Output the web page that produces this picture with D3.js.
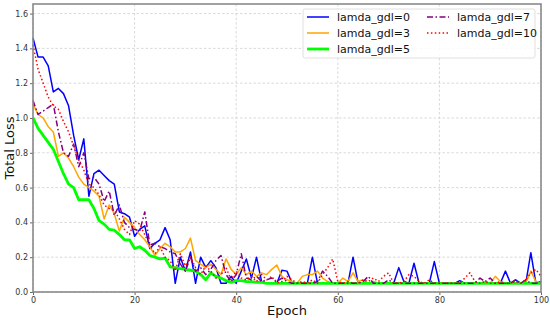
<!DOCTYPE html>
<html><head><meta charset="utf-8">
<script src="https://cdn.jsdelivr.net/npm/d3@7"></script>
<style>body{margin:0;background:#fff}svg{display:block}</style>
</head><body>
<svg id="c" width="550" height="320"></svg>
<script>
const epochs = d3.range(0, 101);
const xTicks = [0, 20, 40, 60, 80, 100];
const yTicks = [0.0, 0.2, 0.4, 0.6, 0.8, 1.0, 1.2, 1.4, 1.6];
const seriesNames = ["lamda_gdl=0", "lamda_gdl=3", "lamda_gdl=5", "lamda_gdl=7", "lamda_gdl=10"];

const gdl0 = [1.46,1.35,1.35,1.30,1.15,1.17,1.14,1.07,0.90,0.76,0.88,0.55,0.68,0.70,0.67,0.64,0.62,0.46,0.45,0.43,
0.32,0.36,0.38,0.25,0.28,0.30,0.37,0.30,0.05,0.20,0.12,0.23,0.05,0.20,0.14,0.18,0.14,0.05,0.05,0.09,
0.05,0.12,0.19,0.08,0.20,0.06,0.05,0.05,0.05,0.125,0.12,0.05,0.05,0.05,0.05,0.20,0.05,0.05,0.05,0.05,
0.05,0.05,0.05,0.20,0.05,0.05,0.05,0.05,0.05,0.05,0.05,0.05,0.14,0.06,0.05,0.165,0.05,0.05,0.05,0.175,
0.05,0.05,0.05,0.05,0.065,0.05,0.05,0.05,0.05,0.05,0.05,0.05,0.05,0.12,0.05,0.07,0.05,0.05,0.226,0.05,0.06];
const gdl3 = [1.08,1.02,1.00,0.95,0.92,0.78,0.80,0.77,0.72,0.66,0.62,0.60,0.58,0.55,0.42,0.50,0.45,0.35,0.43,0.40,
0.37,0.33,0.30,0.26,0.21,0.25,0.28,0.26,0.23,0.23,0.25,0.31,0.18,0.16,0.14,0.16,0.13,0.10,0.19,0.13,
0.10,0.14,0.10,0.12,0.09,0.11,0.10,0.13,0.155,0.09,0.07,0.06,0.05,0.09,0.10,0.10,0.12,0.08,0.06,0.05,
0.05,0.08,0.06,0.11,0.06,0.07,0.05,0.06,0.05,0.05,0.05,0.05,0.05,0.05,0.05,0.05,0.05,0.05,0.05,0.05,
0.05,0.05,0.05,0.05,0.05,0.05,0.05,0.05,0.05,0.06,0.05,0.09,0.06,0.05,0.05,0.05,0.05,0.05,0.12,0.06,0.05];
const gdl5 = [1.00,0.94,0.90,0.86,0.82,0.75,0.68,0.62,0.60,0.53,0.53,0.53,0.48,0.41,0.39,0.36,0.355,0.33,0.30,0.30,
0.25,0.26,0.24,0.21,0.20,0.19,0.195,0.145,0.14,0.135,0.13,0.125,0.12,0.10,0.07,0.11,0.09,0.08,0.065,0.055,
0.065,0.065,0.06,0.06,0.055,0.055,0.05,0.05,0.05,0.05,0.05,0.05,0.05,0.05,0.05,0.05,0.05,0.05,0.05,0.05,
0.05,0.05,0.05,0.05,0.05,0.05,0.05,0.05,0.05,0.05,0.05,0.05,0.05,0.05,0.05,0.05,0.05,0.05,0.05,0.05,
0.05,0.05,0.05,0.05,0.05,0.05,0.05,0.05,0.05,0.05,0.05,0.05,0.05,0.05,0.05,0.05,0.05,0.05,0.05,0.05,0.05];
const gdl7 = [1.10,1.02,1.04,1.06,1.08,0.92,0.80,0.78,0.85,0.72,0.80,0.65,0.66,0.62,0.52,0.58,0.44,0.50,0.40,0.37,
0.36,0.35,0.46,0.27,0.28,0.26,0.25,0.23,0.22,0.16,0.12,0.20,0.12,0.14,0.10,0.13,0.18,0.21,0.10,0.06,
0.10,0.22,0.08,0.07,0.09,0.06,0.07,0.08,0.06,0.08,0.06,0.05,0.05,0.05,0.05,0.05,0.06,0.12,0.09,0.05,
0.05,0.05,0.05,0.05,0.05,0.06,0.09,0.05,0.05,0.05,0.07,0.05,0.05,0.05,0.05,0.05,0.05,0.05,0.05,0.05,
0.05,0.05,0.05,0.05,0.05,0.05,0.05,0.05,0.08,0.06,0.08,0.05,0.05,0.05,0.05,0.07,0.05,0.07,0.05,0.05,0.06];
const gdl10 = [1.42,1.28,1.20,1.12,1.07,1.05,0.98,0.92,0.84,0.76,0.70,0.62,0.60,0.56,0.50,0.48,0.47,0.42,0.36,0.33,
0.41,0.39,0.33,0.27,0.22,0.26,0.20,0.18,0.12,0.22,0.15,0.20,0.14,0.10,0.15,0.12,0.08,0.10,0.14,0.07,
0.12,0.08,0.07,0.09,0.06,0.10,0.07,0.09,0.05,0.06,0.09,0.07,0.05,0.06,0.05,0.07,0.05,0.10,0.14,0.19,
0.06,0.05,0.06,0.05,0.05,0.07,0.06,0.08,0.06,0.09,0.11,0.05,0.05,0.06,0.10,0.09,0.06,0.05,0.07,0.05,
0.05,0.05,0.05,0.05,0.05,0.08,0.11,0.06,0.05,0.06,0.05,0.05,0.06,0.05,0.05,0.06,0.05,0.07,0.11,0.13,0.09];

const seriesValues = [gdl0, gdl3, gdl5, gdl7, gdl10];
const colors = ["#0000ff", "#ffa500", "#00ff00", "#800080", "#ff0000"];
const widths = [1.5, 1.5, 2.8, 1.5, 1.5];
const dashes = [null, null, null, "6,2.5,1.5,2.5", "1.5,2.4"];

const svg = d3.select("#c");
const L = 33, R = 541, T = 4, B = 292;
const x = d3.scaleLinear().domain([0, 100]).range([L, R]);
const y = d3.scaleLinear().domain([0, 1.655]).range([B, T]);

// grid
const grid = svg.append("g");
grid.selectAll(".gx").data(xTicks).join("line")
  .attr("x1", d => x(d)).attr("x2", d => x(d)).attr("y1", T).attr("y2", B)
  .attr("stroke", "#cfcfcf").attr("stroke-width", 0.8).attr("stroke-dasharray", "2.5,2");
grid.selectAll(".gy").data(yTicks).join("line")
  .attr("x1", L).attr("x2", R).attr("y1", d => y(d)).attr("y2", d => y(d))
  .attr("stroke", "#cfcfcf").attr("stroke-width", 0.8).attr("stroke-dasharray", "2.5,2");

// lines
const line = d3.line().x((d, i) => x(epochs[i])).y(d => y(d));
seriesValues.forEach((vals, k) => {
  svg.append("path").datum(vals)
    .attr("d", line).attr("fill", "none")
    .attr("stroke", colors[k]).attr("stroke-width", widths[k])
    .attr("stroke-linejoin", "round")
    .attr("stroke-dasharray", dashes[k]);
});

// axes
const xAxis = svg.append("g").attr("transform", `translate(0,${B})`)
  .call(d3.axisBottom(x).tickValues(xTicks).tickFormat(d3.format("d")).tickSize(3).tickPadding(2));
const yAxis = svg.append("g").attr("transform", `translate(${L},0)`)
  .call(d3.axisLeft(y).tickValues(yTicks).tickFormat(d3.format(".1f")).tickSize(3).tickPadding(2));
[xAxis, yAxis].forEach(a => {
  a.select(".domain").remove();
  a.selectAll("text").attr("font-family", "DejaVu Sans").attr("font-size", 8).attr("fill", "#333");
  a.selectAll(".tick line").attr("stroke", "#666");
});

// frame
svg.append("rect").attr("x", L).attr("y", T).attr("width", R - L).attr("height", B - T)
  .attr("fill", "none").attr("stroke", "#8a8a8a").attr("stroke-width", 1.6);

// axis titles
svg.append("text").attr("x", (L + R) / 2).attr("y", 315).attr("text-anchor", "middle")
  .attr("font-family", "DejaVu Sans").attr("font-size", 13).attr("fill", "#111").text("Epoch");
svg.append("text").attr("transform", `translate(14,${(T + B) / 2}) rotate(-90)`).attr("text-anchor", "middle")
  .attr("font-family", "DejaVu Sans").attr("font-size", 13).attr("fill", "#111").text("Total Loss");

// legend
const lg = svg.append("g");
lg.append("rect").attr("x", 303).attr("y", 9).attr("width", 232).attr("height", 49).attr("rx", 2)
  .attr("fill", "#fff").attr("fill-opacity", 0.85).attr("stroke", "#d8d8d8").attr("stroke-width", 0.8);
const pos = [[307, 17], [307, 33], [307, 49], [427, 17], [427, 33]];
seriesNames.forEach((name, k) => {
  const [px, py] = pos[k];
  lg.append("line").attr("x1", px).attr("x2", px + 22).attr("y1", py).attr("y2", py)
    .attr("stroke", colors[k]).attr("stroke-width", widths[k]).attr("stroke-dasharray", dashes[k]);
  lg.append("text").attr("x", px + 30).attr("y", py + 4).attr("font-family", "DejaVu Sans")
    .attr("font-size", 11).attr("fill", "#111").text(name);
});
</script>
</body></html>
